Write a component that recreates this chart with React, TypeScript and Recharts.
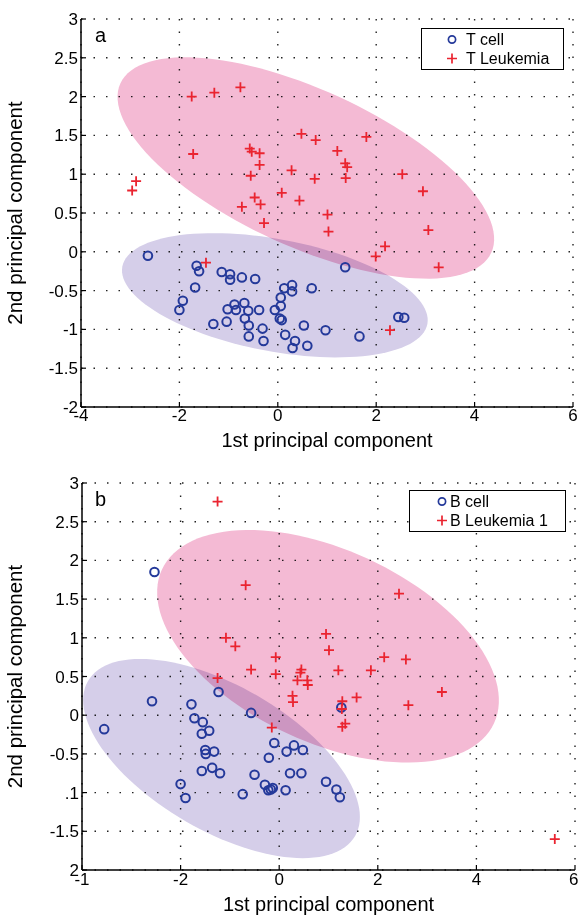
import React from "react";
import { ScatterChart, Scatter, XAxis, YAxis, CartesianGrid } from "recharts";

// panel a
const tCell = [
  [-2.64, -0.05], [-1.65, -0.18], [-1.6, -0.25], [-1.68, -0.46], [-1.93, -0.63], [-2.0, -0.75],
  [-1.14, -0.26], [-0.97, -0.29], [-0.97, -0.36], [-0.73, -0.33], [-0.46, -0.35], [-1.31, -0.93],
  [-1.04, -0.9], [-1.02, -0.74], [-0.88, -0.68], [-0.85, -0.75], [-0.68, -0.66], [-0.6, -0.76],
  [-0.38, -0.75], [-0.67, -0.86], [-0.59, -0.95], [-0.31, -0.99], [-0.59, -1.09], [-0.29, -1.15],
  [-0.06, -0.75], [0.06, -0.7], [0.06, -0.59], [0.13, -0.47], [0.29, -0.43], [0.29, -0.51],
  [0.69, -0.47], [0.04, -0.86], [0.08, -0.88], [0.53, -0.95], [0.97, -1.01], [0.15, -1.07],
  [0.35, -1.15], [0.3, -1.24], [0.6, -1.21], [1.37, -0.2], [1.66, -1.09], [2.45, -0.84], [2.57, -0.85],
];
const tLeukemia = [
  [-2.96, 0.79], [-2.88, 0.91], [-1.75, 2.0], [-1.29, 2.05], [-0.76, 2.12], [-1.72, 1.26],
  [-0.57, 1.33], [-0.53, 1.29], [-0.37, 1.27], [-0.37, 1.12], [-0.55, 0.98], [0.28, 1.05],
  [0.75, 0.94], [0.48, 1.52], [0.77, 1.44], [1.21, 1.3], [1.37, 1.14], [1.41, 1.09], [1.38, 0.95],
  [1.8, 1.48], [2.53, 1.0], [2.95, 0.78], [0.08, 0.76], [0.44, 0.66], [-0.47, 0.7], [-0.35, 0.61],
  [-0.73, 0.58], [1.01, 0.48], [-0.28, 0.37], [1.03, 0.26], [3.06, 0.28], [2.18, 0.07],
  [1.99, -0.06], [3.27, -0.2], [-1.46, -0.14], [2.28, -1.01],
];
// ellipse: centre, then two conjugate half-axes (data units)
const tLeukemiaEllipse = { c: [0.57, 1.08], u: [3.77, -1.09], v: [-0.66, -0.92] };
const tCellEllipse = { c: [-0.06, -0.56], u: [3.1, -0.37], v: [-0.21, -0.71] };

// panel b
const bCell = [
  [-2.53, 1.85], [-3.55, -0.18], [-2.58, 0.18], [-1.78, 0.14], [-1.23, 0.3], [-0.57, 0.03],
  [-1.72, -0.04], [-1.55, -0.09], [-1.57, -0.24], [-1.42, -0.2], [-1.5, -0.45], [-1.49, -0.5],
  [-1.32, -0.47], [-1.57, -0.72], [-1.36, -0.68], [-1.2, -0.75], [-2.0, -0.89], [-1.9, -1.07],
  [-0.74, -1.02], [-0.5, -0.77], [-0.29, -0.9], [-0.22, -0.97], [-0.17, -0.96], [-0.13, -0.94],
  [0.13, -0.97], [-0.1, -0.36], [-0.21, -0.55], [0.15, -0.47], [0.3, -0.39], [0.48, -0.45],
  [0.22, -0.75], [0.45, -0.75], [0.95, -0.86], [1.16, -0.96], [1.23, -1.06], [1.26, 0.1],
];
const bLeukemia = [
  [-1.25, 2.76], [-0.68, 1.68], [2.43, 1.57], [-1.08, 1.0], [-0.89, 0.89], [-0.07, 0.75],
  [-0.57, 0.59], [-0.07, 0.53], [0.45, 0.59], [0.43, 0.55], [0.37, 0.45], [0.57, 0.45],
  [0.58, 0.39], [0.95, 1.05], [1.01, 0.84], [1.2, 0.58], [1.86, 0.58], [2.13, 0.75], [2.57, 0.72],
  [-1.25, 0.48], [3.3, 0.3], [2.62, 0.13], [1.57, 0.23], [1.28, 0.18], [1.27, 0.08], [1.28, -0.15],
  [1.34, -0.11], [0.27, 0.25], [0.28, 0.17], [-0.15, -0.16], [5.59, -1.6],
];
const bLeukemiaEllipse = { c: [0.99, 0.89], u: [3.37, -0.99], v: [-0.81, -1.13] };
const bCellEllipse = { c: [-1.17, -0.56], u: [2.71, -1.0], v: [-0.73, -0.81] };

const xTicks = [-4, -2, 0, 2, 4, 6];
const yTicks = [-2, -1.5, -1, -0.5, 0, 0.5, 1, 1.5, 2, 2.5, 3];
const xLabelsA = ["-4", "-2", "0", "2", "4", "6"];
const xLabelsB = ["-1", "-2", "0", "2", "4", "6"];
const yLabelsA = ["-2", "-1.5", "-1", "-0.5", "0", "0.5", "1", "1.5", "2", "2.5", "3"];
const yLabelsB = ["2", "-1.5", ".1", "-0.5", "0", "0.5", "1", "1.5", "2", "2.5", "3"];

const FONT = "'Liberation Sans', Arial, Helvetica, sans-serif";
const BLUE = "#24399a";
const RED = "#ea2430";
const PINK = "#f4bad4";
const LILAC = "#d5cee9";

const toPts = (arr: number[][]) => arr.map(([x, y]) => ({ x, y }));

function outline(e: { c: number[]; u: number[]; v: number[] }) {
  const n = 120;
  const pts = [];
  for (let i = 0; i < n; i++) {
    const t = (2 * Math.PI * i) / n;
    pts.push({
      x: e.c[0] + e.u[0] * Math.cos(t) + e.v[0] * Math.sin(t),
      y: e.c[1] + e.u[1] * Math.cos(t) + e.v[1] * Math.sin(t),
    });
  }
  return pts;
}

const Ring = (p: any) => (
  <circle cx={p.cx} cy={p.cy} r={4.3} fill="none" stroke={BLUE} strokeWidth={2} />
);
const Plus = (p: any) => (
  <path d={`M${p.cx - 5},${p.cy}h10M${p.cx},${p.cy - 5}v10`} stroke={RED} strokeWidth={1.8} />
);
const NoDot = () => <g />;

const EllipseFill = (p: any) => {
  const pts = p.points || [];
  const d = pts.map((q: any, i: number) => `${i ? "L" : "M"}${q.x},${q.y}`).join("") + "Z";
  return <path d={d} fill={p.color} stroke="none" style={{ mixBlendMode: "multiply" }} />;
};

interface PanelProps {
  letter: string;
  cells: number[][];
  leuk: number[][];
  cellEllipse: { c: number[]; u: number[]; v: number[] };
  leukEllipse: { c: number[]; u: number[]; v: number[] };
  xLabels: string[];
  yLabels: string[];
  names: string[];
  top: number;
  xAxisHeight: number;
  labelOffset: number;
  tickGap: number;
  left: number;
  right: number;
  legend: { left: number; top: number; width: number; sym: number; text: number };
}

const Panel: React.FC<PanelProps> = (p) => {
  const axisLine = { stroke: "#000", strokeWidth: 1.5 };
  const tickLine = { stroke: "#000", strokeWidth: 1.2 };
  const tick = { fill: "#000", fontSize: 17, fontFamily: FONT };
  return (
    <div style={{ position: "relative", width: 578, height: 458 }}>
      <ScatterChart
        width={578}
        height={458}
        margin={{ top: p.top, right: p.right, bottom: 0, left: 0 }}
        style={{ fontFamily: FONT }}
      >
        <CartesianGrid stroke="#222" strokeWidth={1.4} strokeDasharray="1.5 11" />
        <XAxis
          type="number"
          dataKey="x"
          domain={[-4, 6]}
          ticks={xTicks}
          tickFormatter={(v: number) => p.xLabels[xTicks.indexOf(v)]}
          height={p.xAxisHeight}
          tickSize={-5}
          tickMargin={p.tickGap}
          axisLine={axisLine}
          tickLine={tickLine}
          tick={tick}
          label={{
            value: "1st principal component",
            position: "insideBottom",
            offset: p.labelOffset,
            style: { fontSize: 20, fill: "#000", fontFamily: FONT },
          }}
        />
        <XAxis
          xAxisId="top"
          orientation="top"
          type="number"
          domain={[-4, 6]}
          ticks={xTicks}
          height={0}
          tickSize={-5}
          tick={false}
          axisLine={axisLine}
          tickLine={tickLine}
        />
        <YAxis
          type="number"
          dataKey="y"
          domain={[-2, 3]}
          ticks={yTicks}
          tickFormatter={(v: number) => p.yLabels[yTicks.indexOf(v)]}
          width={p.left}
          tickSize={-5}
          tickMargin={8}
          axisLine={axisLine}
          tickLine={tickLine}
          tick={tick}
          label={{
            value: "2nd principal component",
            angle: -90,
            position: "insideLeft",
            offset: 15,
            style: { textAnchor: "middle", fontSize: 20.5, fill: "#000", fontFamily: FONT },
          }}
        />
        <YAxis
          yAxisId="right"
          orientation="right"
          type="number"
          domain={[-2, 3]}
          ticks={yTicks}
          width={0}
          tickSize={-5}
          tick={false}
          axisLine={axisLine}
          tickLine={tickLine}
        />
        <Scatter
          data={outline(p.leukEllipse)}
          shape={NoDot}
          line={<EllipseFill color={PINK} />}
          lineJointType="linearClosed"
          isAnimationActive={false}
        />
        <Scatter
          data={outline(p.cellEllipse)}
          shape={NoDot}
          line={<EllipseFill color={LILAC} />}
          lineJointType="linearClosed"
          isAnimationActive={false}
        />
        <Scatter data={toPts(p.cells)} shape={Ring} isAnimationActive={false} />
        <Scatter data={toPts(p.leuk)} shape={Plus} isAnimationActive={false} />
      </ScatterChart>
      <div
        style={{
          position: "absolute",
          left: 95,
          top: p.top + 6,
          fontFamily: FONT,
          fontSize: 20,
          lineHeight: "20px",
        }}
      >
        {p.letter}
      </div>
      <div
        style={{
          position: "absolute",
          left: p.legend.left,
          top: p.legend.top,
          width: p.legend.width,
          height: 42,
          border: "1.5px solid #000",
          background: "#fff",
          fontFamily: FONT,
          fontSize: 16,
          boxSizing: "border-box",
        }}
      >
        {p.names.map((name, i) => (
          <div
            key={name}
            style={{ display: "flex", alignItems: "center", height: 17, marginTop: i ? 2 : 2 }}
          >
            <svg width={p.legend.text} height={17} style={{ flex: "none" }}>
              {i === 0 ? (
                <circle cx={p.legend.sym} cy={8.5} r={3.6} fill="none" stroke={BLUE} strokeWidth={1.7} />
              ) : (
                <path
                  d={`M${p.legend.sym - 5},8.5h10M${p.legend.sym},3.5v10`}
                  stroke={RED}
                  strokeWidth={1.7}
                />
              )}
            </svg>
            <span style={{ lineHeight: "17px" }}>{name}</span>
          </div>
        ))}
      </div>
    </div>
  );
}

export default function App() {
  return (
    <div style={{ position: "absolute", left: 0, top: 0, width: 578, height: 916, background: "#fff" }}>
      <Panel
        letter="a"
        cells={tCell}
        leuk={tLeukemia}
        cellEllipse={tCellEllipse}
        leukEllipse={tLeukemiaEllipse}
        xLabels={xLabelsA}
        yLabels={yLabelsA}
        names={["T cell", "T Leukemia"]}
        top={19}
        xAxisHeight={51}
        labelOffset={11}
        tickGap={7}
        left={81}
        right={5}
        legend={{ left: 421, top: 28, width: 143, sym: 30, text: 44 }}
      />
      <Panel
        letter="b"
        cells={bCell}
        leuk={bLeukemia}
        cellEllipse={bCellEllipse}
        leukEllipse={bLeukemiaEllipse}
        xLabels={xLabelsB}
        yLabels={yLabelsB}
        names={["B cell", "B Leukemia 1"]}
        top={25}
        xAxisHeight={46}
        labelOffset={5}
        tickGap={8}
        left={82}
        right={3}
        legend={{ left: 409, top: 32, width: 157, sym: 32, text: 40 }}
      />
    </div>
  );
}
